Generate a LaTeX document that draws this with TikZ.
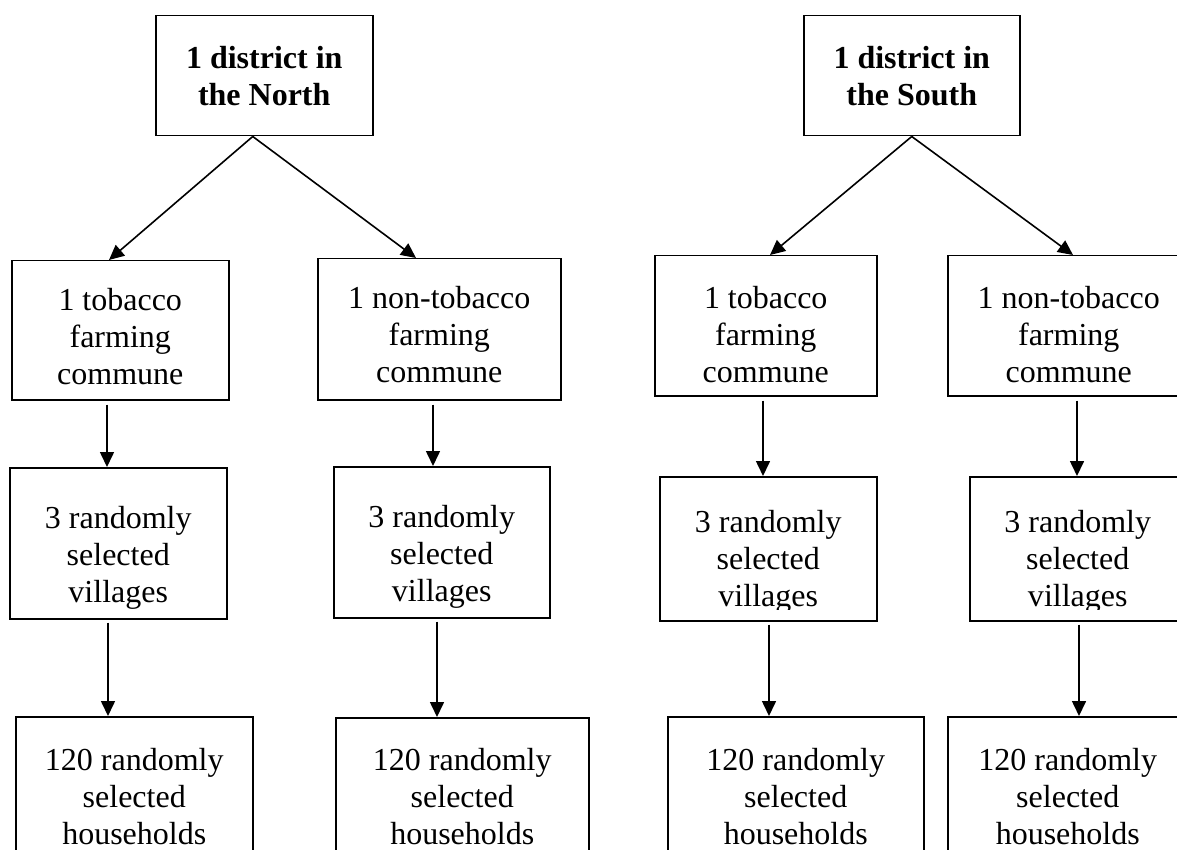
\documentclass[tikz,border=0pt]{standalone}
\usepackage{fontspec}
\setmainfont{Liberation Serif}
\usetikzlibrary{arrows.meta}
\newcommand\ctext[1]{\vtop{\halign{\hfil##\hfil\cr#1\crcr}}}
\begin{document}
\begin{tikzpicture}[x=1pt,y=-1pt,
  box/.style={draw, line width=1.5pt, inner sep=0pt, anchor=north west},
  txt/.style={font=\fontsize{32}{37}\selectfont, anchor=base, inner sep=0pt},
  arr/.style={line width=1.6pt, -{Triangle[length=15pt,width=14pt]}}
]
\useasboundingbox (0,0) rectangle (1177,850);
\fill[white] (0,0) rectangle (1177,850);

% top boxes
\node[box, minimum width=217pt, minimum height=120pt] (T1) at (155,15) {};
\node[box, minimum width=216pt, minimum height=120pt] (T2) at (803,15) {};
\node[txt, font=\fontsize{32}{37}\selectfont\bfseries] (T1t) at (T1.north |- 0,69) {\ctext{1 district in\cr the North}};
\node[txt, font=\fontsize{32}{37}\selectfont\bfseries] (T2t) at (T2.north |- 0,69) {\ctext{1 district in\cr the South}};

% level 2
\node[box, minimum width=217pt, minimum height=139pt] (A2) at (11,260) {};
\node[box, minimum width=243pt, minimum height=141pt] (B2) at (317,258) {};
\node[box, minimum width=222pt, minimum height=140pt] (C2) at (654,255) {};
\node[box, minimum width=242pt, minimum height=140pt] (D2) at (947,255) {};
\node[txt] (A2t) at (A2.north |- 0,310) {\ctext{1 tobacco\cr farming\cr commune}};
\node[txt] (B2t) at (B2.north |- 0,308) {\ctext{1 non-tobacco\cr farming\cr commune}};
\node[txt] (C2t) at (C2.north |- 0,308) {\ctext{1 tobacco\cr farming\cr commune}};
\node[txt] (D2t) at (D2.north |- 0,308) {\ctext{1 non-tobacco\cr farming\cr commune}};

% level 3
\node[box, minimum width=217pt, minimum height=151pt] (A3) at (9,467) {};
\node[box, minimum width=216pt, minimum height=151pt] (B3) at (333,466) {};
\node[box, minimum width=217pt, minimum height=144pt] (C3) at (659,476) {};
\node[box, minimum width=216pt, minimum height=144pt] (D3) at (969,476) {};
\begin{scope}
  \clip (9,467) rectangle (226,609);
  \node[txt] (A3t) at (A3.north |- 0,528) {\ctext{3 randomly\cr selected\cr villages}};
\end{scope}
\begin{scope}
  \clip (333,466) rectangle (549,608);
  \node[txt] (B3t) at (B3.north |- 0,527) {\ctext{3 randomly\cr selected\cr villages}};
\end{scope}
\begin{scope}
  \clip (659,476) rectangle (876,609);
  \node[txt] (C3t) at (C3.north |- 0,532) {\ctext{3 randomly\cr selected\cr villages}};
\end{scope}
\begin{scope}
  \clip (969,476) rectangle (1185,609);
  \node[txt] (D3t) at (D3.north |- 0,532) {\ctext{3 randomly\cr selected\cr villages}};
\end{scope}

% level 4
\node[box, minimum width=237pt, minimum height=150pt] (A4) at (15,716) {};
\node[box, minimum width=253pt, minimum height=150pt] (B4) at (335,717) {};
\node[box, minimum width=256pt, minimum height=150pt] (C4) at (667,716) {};
\node[box, minimum width=240pt, minimum height=150pt] (D4) at (947,716) {};
\node[txt] (A4t) at (A4.north |- 0,770) {\ctext{120 randomly\cr selected\cr households}};
\node[txt] (B4t) at (B4.north |- 0,770) {\ctext{120 randomly\cr selected\cr households}};
\node[txt] (C4t) at (C4.north |- 0,770) {\ctext{120 randomly\cr selected\cr households}};
\node[txt] (D4t) at (D4.north |- 0,770) {\ctext{120 randomly\cr selected\cr households}};

% diagonal arrows
\draw[arr] ([xshift=-11.5pt]T1.south) -- (A2.north -| 109,0);
\draw[arr] ([xshift=-11.5pt]T1.south) -- (B2.north -| 416,0);
\draw[arr] (T2.south) -- (C2.north -| 770,0);
\draw[arr] (T2.south) -- (D2.north -| 1073,0);

% vertical arrows level 2 -> 3
\draw[arr] (A2.south -| 107,0) ++(0,4) -- (A3.north -| 107,0);
\draw[arr] (B2.south -| 433,0) ++(0,4) -- (B3.north -| 433,0);
\draw[arr] (C2.south -| 763,0) ++(0,4) -- (C3.north -| 763,0);
\draw[arr] (D2.south -| 1077,0) ++(0,4) -- (D3.north -| 1077,0);

% vertical arrows level 3 -> 4
\draw[arr] (A3.south -| 108,0) ++(0,3) -- (A4.north -| 108,0);
\draw[arr] (B3.south -| 437,0) ++(0,3) -- (B4.north -| 437,0);
\draw[arr] (C3.south -| 769,0) ++(0,3) -- (C4.north -| 769,0);
\draw[arr] (D3.south -| 1079,0) ++(0,3) -- (D4.north -| 1079,0);
\end{tikzpicture}
\end{document}
